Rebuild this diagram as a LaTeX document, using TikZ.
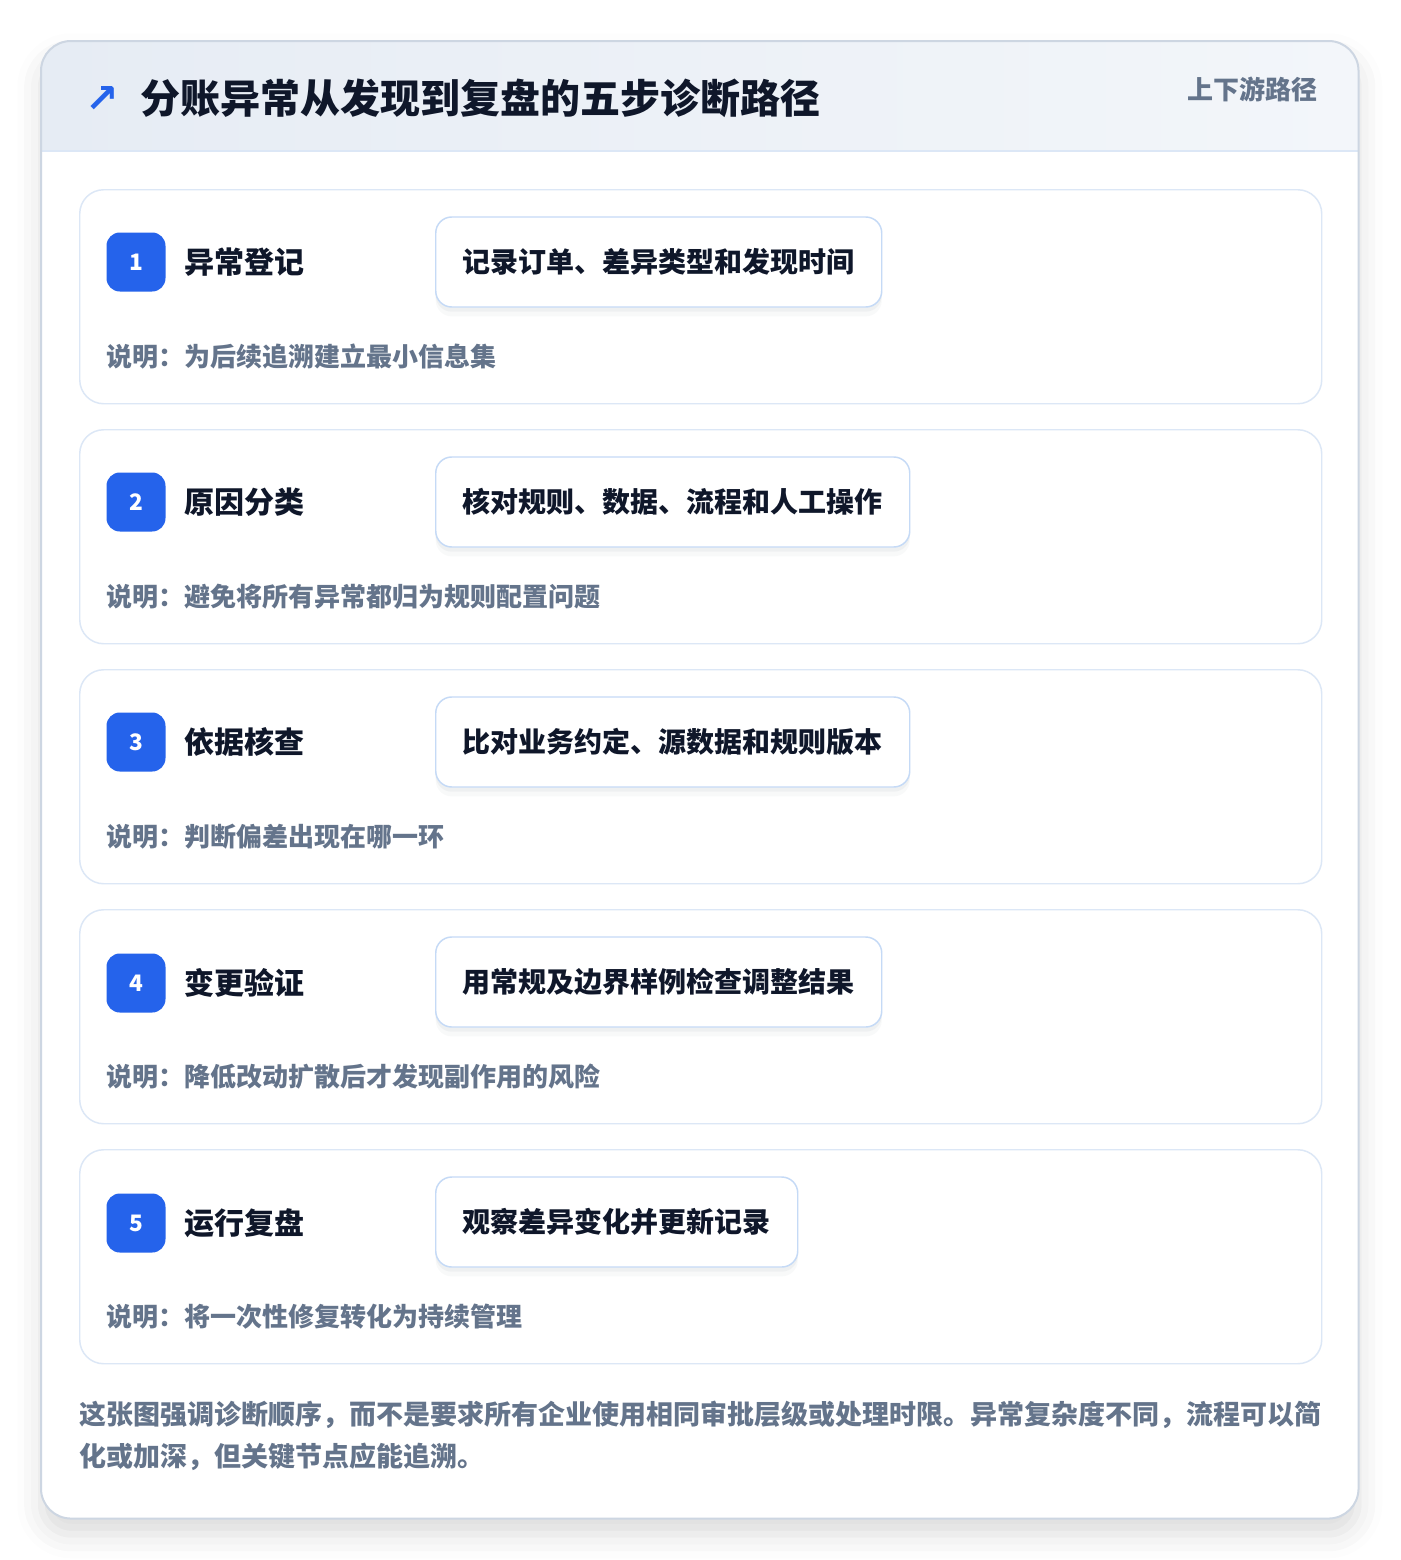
\documentclass[tikz,border=0pt]{standalone}
\usepackage{fontspec}
\setmainfont{Noto Sans CJK SC}
\newfontfamily\symfont{DejaVu Sans}
\usetikzlibrary{positioning,shadows.blur}
\definecolor{inkcolor}{HTML}{0F172A}
\definecolor{mutedcolor}{HTML}{64748B}
\definecolor{accentcolor}{HTML}{2563EB}
\definecolor{cardedge}{HTML}{DCE7F6}
\definecolor{boxedge}{HTML}{C5DAF6}
\definecolor{paneledge}{HTML}{CDD6E2}
\definecolor{headleft}{HTML}{E6ECF4}
\definecolor{headright}{HTML}{F3F6FA}
\definecolor{shadecolor}{HTML}{475569}

\begin{document}
\begin{tikzpicture}[x = 0.75pt, y = -0.75pt, font = \bfseries,
                    panel/.style = {rectangle, anchor = north west,
                                    fill = white,
                                    rounded corners = 22.5pt,
                                    minimum width = 987.75pt,
                                    minimum height = 1107.75pt,
                                    blur shadow = {shadow xshift = 0pt,
                                                   shadow yshift = -12pt,
                                                   shadow blur radius = 18pt,
                                                   shadow opacity = 14}},
                    stepcard/.style = {rectangle, anchor = north west,
                                       draw = cardedge, line width = 1.1pt,
                                       fill = white,
                                       rounded corners = 18pt,
                                       minimum width = 931.5pt,
                                       minimum height = 160.5pt},
                    badge/.style = {rectangle, fill = accentcolor,
                                    rounded corners = 10pt,
                                    minimum size = 44.25pt,
                                    text = white,
                                    font = \fontsize{17pt}{18pt}\bfseries},
                    steptitle/.style = {inner sep = 0pt, text = inkcolor,
                                        font = \fontsize{22.5pt}{26pt}\bfseries},
                    action/.style = {rectangle, anchor = west,
                                     draw = boxedge, line width = 1.1pt,
                                     fill = white,
                                     rounded corners = 12pt,
                                     minimum height = 67.5pt,
                                     inner xsep = 20.25pt,
                                     text = inkcolor,
                                     font = \fontsize{21pt}{24pt}\bfseries,
                                     preaction = {fill = shadecolor, draw = none,
                                                  opacity = 0.035,
                                                  transform canvas = {yshift = -7pt}},
                                     preaction = {fill = shadecolor, draw = none,
                                                  opacity = 0.05,
                                                  transform canvas = {yshift = -3.5pt}}},
                    note/.style = {anchor = west, inner sep = 0pt,
                                   text = mutedcolor,
                                   font = \fontsize{19.5pt}{22pt}\bfseries}]

\useasboundingbox (0,0) rectangle (1400,1560);

% outer panel and header band
\node[panel] (panel) at (41,41) {};
\begin{scope}
  \clip[rounded corners = 22.5pt] (panel.north west) rectangle (panel.south east);
  \fill[left color = headleft, right color = headright] (41,41) rectangle (1358,151);
\end{scope}
\draw[cardedge, line width = 1.1pt] (41,151) -- (1358,151);
\draw[paneledge, line width = 1.5pt, rounded corners = 22.5pt]
  (panel.north west) rectangle (panel.south east);

\node[anchor = center, text = accentcolor,
      font = \symfont\bfseries\fontsize{30pt}{32pt}\selectfont] (icon) at (102,99) {↗};
\node[anchor = west, inner sep = 0pt, text = inkcolor,
      font = \fontsize{30pt}{34pt}\bfseries] (title) at (140,98)
  {分账异常从发现到复盘的五步诊断路径};
\node[anchor = east, inner sep = 0pt, text = mutedcolor,
      font = \fontsize{19.5pt}{22pt}\bfseries] (tag) at (1318,89) {上下游路径};

% step 1
\node[stepcard] (card1) at (79,189) {};
\node[badge] (b1) at (136,262) {1};
\node[steptitle, right = 13.5pt of b1] (t1) {异常登记};
\node[action] (a1) at (435,262) {记录订单、差异类型和发现时间};
\node[note] (n1) at (106,357) {说明：为后续追溯建立最小信息集};

% step 2
\node[stepcard] (card2) at (79,429) {};
\node[badge] (b2) at (136,502) {2};
\node[steptitle, right = 13.5pt of b2] (t2) {原因分类};
\node[action] (a2) at (435,502) {核对规则、数据、流程和人工操作};
\node[note] (n2) at (106,597) {说明：避免将所有异常都归为规则配置问题};

% step 3
\node[stepcard] (card3) at (79,669) {};
\node[badge] (b3) at (136,742) {3};
\node[steptitle, right = 13.5pt of b3] (t3) {依据核查};
\node[action] (a3) at (435,742) {比对业务约定、源数据和规则版本};
\node[note] (n3) at (106,837) {说明：判断偏差出现在哪一环};

% step 4
\node[stepcard] (card4) at (79,909) {};
\node[badge] (b4) at (136,983) {4};
\node[steptitle, right = 13.5pt of b4] (t4) {变更验证};
\node[action] (a4) at (435,982) {用常规及边界样例检查调整结果};
\node[note] (n4) at (106,1077) {说明：降低改动扩散后才发现副作用的风险};

% step 5
\node[stepcard] (card5) at (79,1149) {};
\node[badge] (b5) at (136,1223) {5};
\node[steptitle, right = 13.5pt of b5] (t5) {运行复盘};
\node[action] (a5) at (435,1222) {观察差异变化并更新记录};
\node[note] (n5) at (106,1317) {说明：将一次性修复转化为持续管理};

% closing remark
\node[anchor = west, inner sep = 0pt, align = left, text = mutedcolor,
      font = \fontsize{20.25pt}{31.5pt}\bfseries] (remark) at (79,1436)
  {这张图强调诊断顺序，而不是要求所有企业使用相同审批层级或处理时限。异常复杂度不同，流程可以简\\
   化或加深，但关键节点应能追溯。};

\end{tikzpicture}
\end{document}
